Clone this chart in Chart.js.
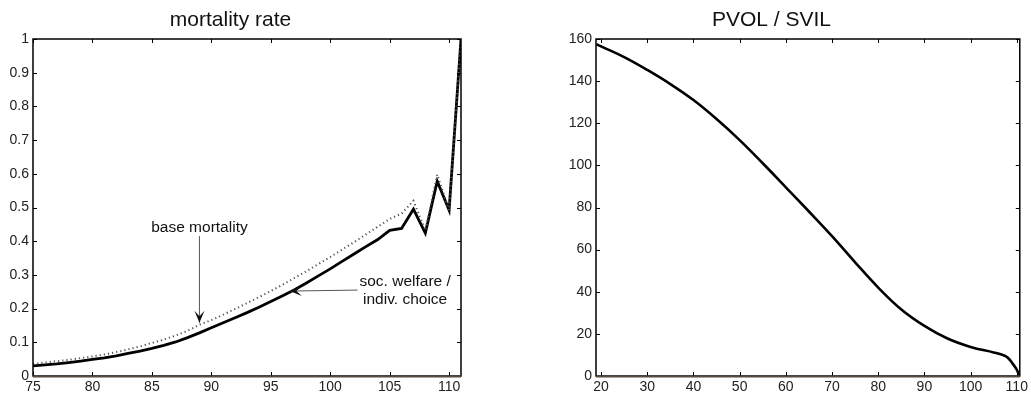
<!DOCTYPE html>
<html>
<head>
<meta charset="utf-8">
<script src="https://cdn.jsdelivr.net/npm/chart.js@4/dist/chart.umd.min.js"></script>
<style>
  html, body { margin: 0; padding: 0; background: #fff; }
  #wrap { position: relative; width: 1031px; height: 393px; }
  canvas { position: absolute; top: 0; }
</style>
</head>
<body>
<div id="wrap">
  <canvas id="mortality" width="520" height="393" style="left:0"></canvas>
  <canvas id="pvol" width="511" height="393" style="left:520px"></canvas>
</div>
<script>
// left panel: mortality rate by age
const ages = [75, 76, 77, 78, 79, 80, 81, 82, 83, 84, 85, 86, 87, 88, 89, 90, 91, 92,
  93, 94, 95, 96, 97, 98, 99, 100, 101, 102, 103, 104, 105, 106, 107, 108, 109, 110, 111];
const welfareRate = [0.030, 0.033, 0.036, 0.040, 0.044, 0.049, 0.054, 0.060, 0.067, 0.074,
  0.082, 0.091, 0.101, 0.114, 0.128, 0.143, 0.158, 0.173, 0.188, 0.204, 0.221, 0.238, 0.256,
  0.276, 0.297, 0.318, 0.340, 0.362, 0.384, 0.405, 0.432, 0.438, 0.495, 0.424, 0.578, 0.492, 1.0];
const baseRate = [0.036, 0.040, 0.044, 0.048, 0.053, 0.058, 0.064, 0.071, 0.079, 0.088,
  0.098, 0.108, 0.120, 0.134, 0.152, 0.166, 0.182, 0.199, 0.216, 0.234, 0.252, 0.271, 0.291,
  0.311, 0.332, 0.353, 0.375, 0.397, 0.420, 0.443, 0.466, 0.482, 0.520, 0.432, 0.598, 0.492, 1.0];
const mortXTicks = [75, 80, 85, 90, 95, 100, 105, 110];
const mortYTicks = [0, 0.1, 0.2, 0.3, 0.4, 0.5, 0.6, 0.7, 0.8, 0.9, 1];

// right panel: PVOL / SVIL
const pvolAges = [19, 20, 25, 30, 35, 40, 45, 50, 55, 60, 65, 70, 75, 80, 85, 90, 95,
  100, 105, 107, 108, 109, 110, 110.5];
const pvolValues = [157.5, 156.5, 151.4, 145.3, 138.6, 131, 122, 112, 101, 89.6, 78.1,
  66.4, 54, 42, 31.6, 23.8, 17.8, 13.8, 11.2, 10.0, 8.8, 6.2, 3.0, 0.3];
const pvolXTicks = [20, 30, 40, 50, 60, 70, 80, 90, 100, 110];
const pvolYTicks = [0, 20, 40, 60, 80, 100, 120, 140, 160];

const FONT = 'Liberation Sans, Arial, Helvetica, sans-serif';

// MATLAB-like box with inward ticks on all four sides
const boxPlugin = {
  id: 'box',
  afterDraw(chart) {
    const { ctx, chartArea: a, scales } = chart;
    const len = 4;
    ctx.save();
    ctx.strokeStyle = '#000';
    ctx.lineWidth = 1;
    ctx.beginPath();
    scales.x.ticks.forEach(t => {
      const px = Math.round(scales.x.getPixelForValue(t.value)) + 0.5;
      ctx.moveTo(px, a.bottom); ctx.lineTo(px, a.bottom - len);
      ctx.moveTo(px, a.top); ctx.lineTo(px, a.top + len);
    });
    scales.y.ticks.forEach(t => {
      const py = Math.round(scales.y.getPixelForValue(t.value)) + 0.5;
      ctx.moveTo(a.left, py); ctx.lineTo(a.left + len, py);
      ctx.moveTo(a.right, py); ctx.lineTo(a.right - len, py);
    });
    ctx.stroke();
    ctx.lineWidth = 1.5;
    ctx.strokeRect(a.left, a.top, a.right - a.left, a.bottom - a.top);
    ctx.strokeStyle = '#564b40';
    ctx.lineWidth = 2;
    ctx.beginPath();
    ctx.moveTo(a.left, a.bottom + 0.5);
    ctx.lineTo(a.right, a.bottom + 0.5);
    ctx.stroke();
    ctx.restore();
  }
};

// text + arrow notes on the mortality panel (data coordinates)
const notes = [
  { lines: ['base mortality'], at: [89, 0.44], from: [89, 0.415], to: [89, 0.158] },
  { lines: ['soc. welfare /', 'indiv. choice'], at: [106.3, 0.253], from: [102.3, 0.255], to: [96.6, 0.252] }
];

function arrowHead(ctx, x0, y0, x1, y1) {
  const ang = Math.atan2(y1 - y0, x1 - x0);
  const L = 12, W = 5;
  const bx = x1 - L * Math.cos(ang), by = y1 - L * Math.sin(ang);
  const nx = -Math.sin(ang), ny = Math.cos(ang);
  const mx = x1 - L * 0.55 * Math.cos(ang), my = y1 - L * 0.55 * Math.sin(ang);
  ctx.beginPath();
  ctx.moveTo(x1, y1);
  ctx.lineTo(bx + nx * W, by + ny * W);
  ctx.lineTo(mx, my);
  ctx.lineTo(bx - nx * W, by - ny * W);
  ctx.closePath();
  ctx.fill();
}

const notesPlugin = {
  id: 'notes',
  afterDatasetsDraw(chart) {
    const { ctx, scales: { x, y } } = chart;
    ctx.save();
    ctx.font = '15.5px ' + FONT;
    ctx.textAlign = 'center';
    ctx.textBaseline = 'middle';
    notes.forEach(n => {
      const cx = x.getPixelForValue(n.at[0]);
      const cy = y.getPixelForValue(n.at[1]);
      const lh = 18;
      const top = cy - (n.lines.length - 1) * lh / 2;
      ctx.fillStyle = '#111';
      n.lines.forEach((s, i) => ctx.fillText(s, cx, top + i * lh));
      const x0 = x.getPixelForValue(n.from[0]), y0 = y.getPixelForValue(n.from[1]);
      const x1 = x.getPixelForValue(n.to[0]), y1 = y.getPixelForValue(n.to[1]);
      ctx.strokeStyle = '#555';
      ctx.lineWidth = 1;
      ctx.beginPath();
      ctx.moveTo(x0, y0);
      ctx.lineTo(x1, y1);
      ctx.stroke();
      arrowHead(ctx, x0, y0, x1, y1);
    });
    ctx.restore();
  }
};

function axes(xMin, xMax, xTicks, yMax, yTicks, yWidth) {
  const tickFont = { family: FONT, size: 14 };
  return {
    x: {
      type: 'linear', min: xMin, max: xMax,
      afterBuildTicks: s => { s.ticks = xTicks.map(v => ({ value: v })); },
      afterFit: s => { s.height = 17; },
      grid: { display: false, drawTicks: false },
      border: { display: false },
      ticks: { font: tickFont, color: '#222', padding: 3, maxRotation: 0, autoSkip: false,
        callback: v => String(v) }
    },
    y: {
      type: 'linear', min: 0, max: yMax,
      afterBuildTicks: s => { s.ticks = yTicks.map(v => ({ value: v })); },
      afterFit: s => { s.width = yWidth; },
      grid: { display: false, drawTicks: false },
      border: { display: false },
      ticks: { font: tickFont, color: '#222', padding: 4, autoSkip: false,
        callback: v => String(+v.toFixed(2)) }
    }
  };
}

function titleOpts(text) {
  return {
    display: true, text: text, color: '#111',
    font: { family: FONT, size: 21, weight: 'normal', lineHeight: '25px' },
    padding: { top: 8, bottom: 6 }
  };
}

new Chart(document.getElementById('mortality'), {
  type: 'line',
  data: {
    datasets: [
      {
        label: 'base mortality',
        data: ages.map((a, i) => ({ x: a, y: baseRate[i] })),
        borderColor: '#555', borderWidth: 2, borderDash: [1.2, 3],
        pointRadius: 0, tension: 0
      },
      {
        label: 'soc. welfare / indiv. choice',
        data: ages.map((a, i) => ({ x: a, y: welfareRate[i] })),
        borderColor: '#000', borderWidth: 2.8,
        pointRadius: 0, tension: 0
      }
    ]
  },
  options: {
    responsive: false,
    animation: false,
    devicePixelRatio: 1,
    layout: { padding: { left: 0, right: 59, top: 0, bottom: 0 } },
    plugins: { legend: { display: false }, tooltip: { enabled: false }, title: titleOpts('mortality rate') },
    scales: axes(75, 111, mortXTicks, 1, mortYTicks, 33)
  },
  plugins: [notesPlugin, boxPlugin]
});

new Chart(document.getElementById('pvol'), {
  type: 'line',
  data: {
    datasets: [{
      label: 'PVOL / SVIL',
      data: pvolAges.map((a, i) => ({ x: a, y: pvolValues[i] })),
      borderColor: '#000', borderWidth: 2.6,
      pointRadius: 0, tension: 0.4
    }]
  },
  options: {
    responsive: false,
    animation: false,
    devicePixelRatio: 1,
    layout: { padding: { left: 0, right: 8, top: 0, bottom: 0 } },
    plugins: { legend: { display: false }, tooltip: { enabled: false }, title: titleOpts('PVOL / SVIL') },
    scales: axes(18.9, 110.65, pvolXTicks, 160, pvolYTicks, 76)
  },
  plugins: [boxPlugin]
});
</script>
</body>
</html>
